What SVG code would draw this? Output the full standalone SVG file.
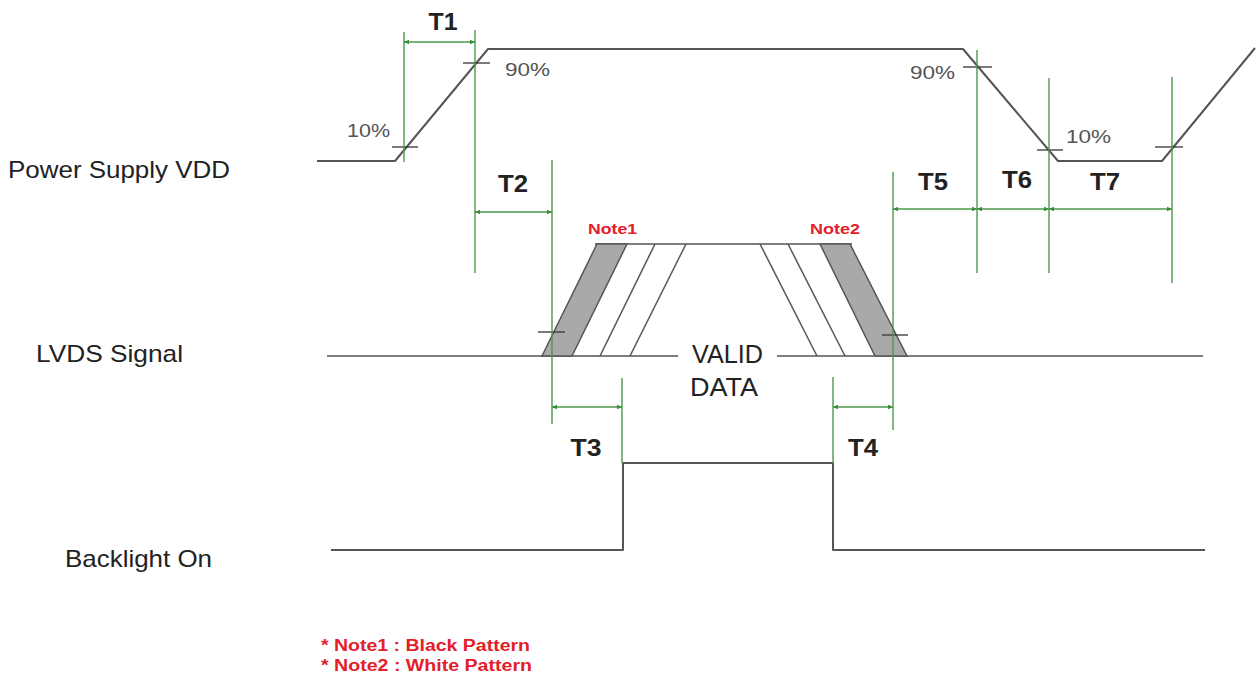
<svg xmlns="http://www.w3.org/2000/svg" width="1257" height="680" viewBox="0 0 1257 680">
<defs>
<style>
.wave{fill:none;stroke:#555;stroke-width:2;stroke-linejoin:round}
.thin{fill:none;stroke:#555;stroke-width:1.5}
.band{fill:#a9a9a9;stroke:#555;stroke-width:1.5}
.tick{stroke:#333;stroke-width:1.3}
.ext{stroke:#4a9a4a;stroke-width:1.4;fill:none}
.dim{stroke:#4a9a4a;stroke-width:1.4;fill:none;marker-start:url(#ds);marker-end:url(#de)}
.lbl{font-family:"Liberation Sans",Arial,sans-serif;font-size:24px;fill:#222}
.big{font-family:"Liberation Sans",Arial,sans-serif;font-size:25px;fill:#222}
.tl{font-family:"Liberation Sans",Arial,sans-serif;font-size:24px;font-weight:bold;fill:#222;text-anchor:middle}
.pct{font-family:"Liberation Sans",Arial,sans-serif;font-size:19px;fill:#555}
.note{font-family:"Liberation Sans",Arial,sans-serif;font-size:14px;font-weight:bold;fill:#e3202a}
.fn{font-family:"Liberation Sans",Arial,sans-serif;font-size:16px;font-weight:bold;fill:#e3202a}
</style>
<marker id="de" markerWidth="6" markerHeight="6" refX="5" refY="3" orient="auto" markerUnits="userSpaceOnUse"><path d="M0,0.8 L5,3 L0,5.2 z" fill="#3a8a3a"/></marker>
<marker id="ds" markerWidth="6" markerHeight="6" refX="1" refY="3" orient="auto" markerUnits="userSpaceOnUse"><path d="M6,0.8 L1,3 L6,5.2 z" fill="#3a8a3a"/></marker>
</defs>

<g id="labels">
<text class="lbl" x="8" y="178" textLength="222" lengthAdjust="spacingAndGlyphs">Power Supply VDD</text>
<text class="lbl" x="36" y="362" textLength="147" lengthAdjust="spacingAndGlyphs">LVDS Signal</text>
<text class="lbl" x="65" y="567" textLength="147" lengthAdjust="spacingAndGlyphs">Backlight On</text>
</g>

<g id="vdd">
<polyline class="wave" points="317,161 395,161 488,49 963,49 1058,161 1162,161 1255,48"/>
<line class="tick" x1="392" y1="147" x2="418" y2="147"/>
<line class="tick" x1="463" y1="63" x2="490" y2="63"/>
<line class="tick" x1="963" y1="67" x2="992" y2="67"/>
<line class="tick" x1="1037" y1="150" x2="1063" y2="150"/>
<line class="tick" x1="1155" y1="147" x2="1183" y2="147"/>
<text class="pct" x="347" y="137" textLength="43" lengthAdjust="spacingAndGlyphs">10%</text>
<text class="pct" x="505" y="76" textLength="45" lengthAdjust="spacingAndGlyphs">90%</text>
<text class="pct" x="910" y="79" textLength="45" lengthAdjust="spacingAndGlyphs">90%</text>
<text class="pct" x="1066" y="143" textLength="45" lengthAdjust="spacingAndGlyphs">10%</text>
</g>

<g id="lvds">
<line class="thin" x1="327" y1="356" x2="678" y2="356"/>
<line class="thin" x1="777" y1="356" x2="1203" y2="356"/>
<line class="thin" x1="595" y1="244" x2="852" y2="244"/>
<polygon class="band" points="542,356 597,244 627,244 572,356"/>
<line class="thin" x1="600" y1="356" x2="655" y2="244"/>
<line class="thin" x1="630" y1="356" x2="686" y2="244"/>
<line class="thin" x1="760" y1="244" x2="817" y2="356"/>
<line class="thin" x1="788" y1="244" x2="845" y2="356"/>
<polygon class="band" points="820,244 850,244 907,356 875,356"/>
<line class="tick" x1="538" y1="332" x2="565" y2="332"/>
<line class="tick" x1="882" y1="335" x2="908" y2="335"/>
<text class="note" x="588" y="234" textLength="49" lengthAdjust="spacingAndGlyphs">Note1</text>
<text class="note" x="810" y="234" textLength="50" lengthAdjust="spacingAndGlyphs">Note2</text>
<text class="big" x="692" y="363" textLength="71" lengthAdjust="spacingAndGlyphs">VALID</text>
<text class="big" x="690" y="396" textLength="68" lengthAdjust="spacingAndGlyphs">DATA</text>
</g>

<g id="backlight">
<polyline class="wave" points="331,550 623,550 623,463 833,463 833,550 1205,550"/>
</g>

<g id="connectors">
<line class="ext" x1="404" y1="32" x2="404" y2="162"/>
<line class="ext" x1="475" y1="30" x2="475" y2="273"/>
<line class="ext" x1="552" y1="160" x2="552" y2="424"/>
<line class="ext" x1="622" y1="378" x2="622" y2="463"/>
<line class="ext" x1="833" y1="377" x2="833" y2="463"/>
<line class="ext" x1="893" y1="172" x2="893" y2="430"/>
<line class="ext" x1="977" y1="50" x2="977" y2="273"/>
<line class="ext" x1="1049" y1="78" x2="1049" y2="273"/>
<line class="ext" x1="1172" y1="77" x2="1172" y2="283"/>
<line class="dim" x1="404" y1="42" x2="475" y2="42"/>
<line class="dim" x1="475" y1="212" x2="552" y2="212"/>
<line class="dim" x1="552" y1="407" x2="622" y2="407"/>
<line class="dim" x1="833" y1="407" x2="893" y2="407"/>
<line class="dim" x1="893" y1="209" x2="977" y2="209"/>
<line class="dim" x1="977" y1="209" x2="1049" y2="209"/>
<line class="dim" x1="1049" y1="209" x2="1172" y2="209"/>
</g>

<g id="tlabels">
<text class="tl" x="443" y="30" textLength="29" lengthAdjust="spacingAndGlyphs">T1</text>
<text class="tl" x="513" y="192" textLength="30" lengthAdjust="spacingAndGlyphs">T2</text>
<text class="tl" x="586" y="456" textLength="31" lengthAdjust="spacingAndGlyphs">T3</text>
<text class="tl" x="863" y="456" textLength="30" lengthAdjust="spacingAndGlyphs">T4</text>
<text class="tl" x="933" y="190" textLength="30" lengthAdjust="spacingAndGlyphs">T5</text>
<text class="tl" x="1017" y="188" textLength="30" lengthAdjust="spacingAndGlyphs">T6</text>
<text class="tl" x="1105" y="190" textLength="30" lengthAdjust="spacingAndGlyphs">T7</text>
</g>

<g id="footnotes">
<text class="fn" x="321" y="651" textLength="209" lengthAdjust="spacingAndGlyphs">* Note1 : Black Pattern</text>
<text class="fn" x="321" y="671" textLength="211" lengthAdjust="spacingAndGlyphs">* Note2 : White Pattern</text>
</g>
</svg>
